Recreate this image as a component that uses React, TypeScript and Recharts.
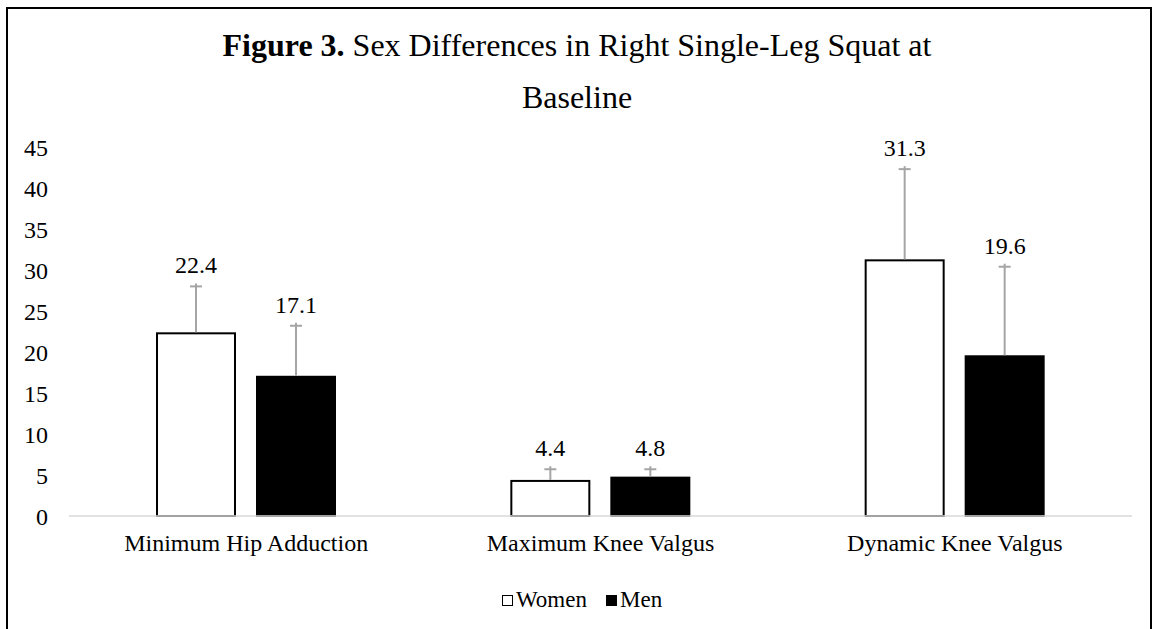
import React from 'react';
import { BarChart, Bar, XAxis, YAxis } from 'recharts';

const categories = ['Minimum Hip Adduction', 'Maximum Knee Valgus', 'Dynamic Knee Valgus'];
const womenValues = [22.4, 4.4, 31.3];
const menValues = [17.1, 4.8, 19.6];
const womenErrors = [5.6, 1.3, 11.0];
const menErrors = [6.1, 0.9, 10.8];
const yTicks = [0, 5, 10, 15, 20, 25, 30, 35, 40, 45];

const FONT = "'Liberation Serif', 'Times New Roman', serif";

const data = categories.map((name, i) => ({
  name,
  women: womenValues[i],
  men: menValues[i],
  womenErr: womenErrors[i],
  menErr: menErrors[i],
}));

// bar + upper error bar + value label, error length scaled from the bar's own px/unit
function makeShape(key: 'women' | 'men', fill: string) {
  return (props: any) => {
    const { x, y, width, height, payload } = props;
    const value = payload[key];
    const err = payload[key + 'Err'];
    const pxPerUnit = value ? height / value : 0;
    const cx = x + width / 2;
    const capY = y - err * pxPerUnit;
    return (
      <g>
        <rect
          x={x + 1}
          y={y + 1}
          width={width - 2}
          height={height - 1}
          fill={fill}
          stroke="#000"
          strokeWidth={2}
        />
        <line x1={cx} y1={y} x2={cx} y2={capY - 3} stroke="#a5a5a5" strokeWidth={2} />
        <line x1={cx - 6} y1={capY} x2={cx + 6} y2={capY} stroke="#a5a5a5" strokeWidth={2} />
        <text
          x={cx}
          y={capY - 13}
          textAnchor="middle"
          fontFamily={FONT}
          fontSize={24}
          fill="#000"
        >
          {value.toFixed(1)}
        </text>
      </g>
    );
  };
}

const legendItems = [
  { label: 'Women', fill: '#fff' },
  { label: 'Men', fill: '#000' },
];

export default function App() {
  const line = (style: React.CSSProperties) => (
    <div style={{ position: 'absolute', background: '#000', ...style }} />
  );
  return (
    <div style={{ position: 'fixed', left: 0, top: 0, width: 1154, height: 629, background: '#fff', overflow: 'hidden' }}>
      {line({ left: 6, top: 7, width: 1146, height: 2 })}
      {line({ left: 6, top: 7, width: 2, height: 640 })}
      {line({ left: 1150, top: 7, width: 2, height: 640 })}
      <div
        style={{
          position: 'absolute',
          top: 19,
          left: 0,
          width: 1154,
          textAlign: 'center',
          fontFamily: FONT,
          fontSize: 32,
          lineHeight: '52px',
          color: '#000',
        }}
      >
        <b>Figure 3.</b> Sex Differences in Right Single-Leg Squat at
        <br />
        Baseline
      </div>
      <div style={{ position: 'absolute', left: 0, top: 0 }}>
        <BarChart
          width={1154}
          height={629}
          data={data}
          margin={{ top: 147, right: 22, bottom: 83, left: 0 }}
          barSize={80}
          barGap={20}
        >
          <XAxis
            dataKey="name"
            height={30}
            tickLine={false}
            tickSize={0}
            tickMargin={18}
            axisLine={{ stroke: '#d9d9d9', strokeWidth: 1.5 }}
            tick={{ fontFamily: FONT, fontSize: 24, fill: '#000' }}
            interval={0}
          />
          <YAxis
            width={69}
            domain={[0, 45]}
            ticks={yTicks}
            tickLine={false}
            axisLine={false}
            tickSize={0}
            tickMargin={21}
            tick={{ fontFamily: FONT, fontSize: 24, fill: '#000' }}
          />
          <Bar dataKey="women" name="Women" fill="#fff" isAnimationActive={false} shape={makeShape('women', '#fff')} />
          <Bar dataKey="men" name="Men" fill="#000" isAnimationActive={false} shape={makeShape('men', '#000')} />
        </BarChart>
      </div>
      <div
        style={{
          position: 'absolute',
          top: 585,
          left: 502,
          display: 'flex',
          fontFamily: FONT,
          fontSize: 23,
          lineHeight: '30px',
          color: '#000',
        }}
      >
        {legendItems.map((it) => (
          <div key={it.label} style={{ display: 'flex', alignItems: 'center', marginRight: 19 }}>
            <span
              style={{
                display: 'inline-block',
                width: 9,
                height: 9,
                background: it.fill,
                border: '1.5px solid #000',
                marginRight: 3,
              }}
            />
            {it.label}
          </div>
        ))}
      </div>
    </div>
  );
}
